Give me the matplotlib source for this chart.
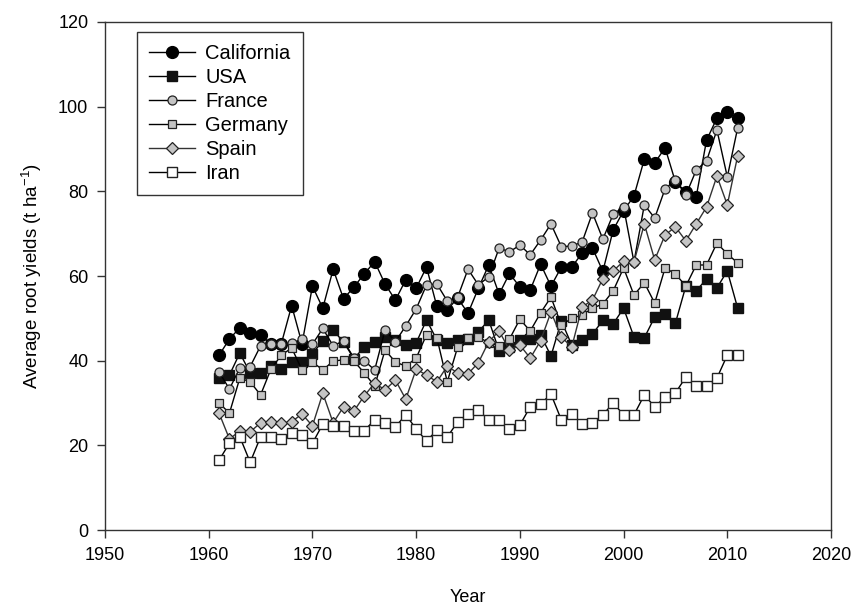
import numpy as np
import matplotlib
matplotlib.use("Agg")
import matplotlib.pyplot as plt

plt.rcParams['font.family'] = ['Liberation Sans', 'DejaVu Sans']
plt.rcParams['mathtext.fontset'] = 'custom'
plt.rcParams['mathtext.rm'] = 'Liberation Sans'

years = np.arange(1961, 2012)

california = [41.3, 45.1, 47.8, 46.6, 46.0, 44.0, 44.0, 53.0, 44.0, 57.6,
              52.4, 61.6, 54.6, 57.4, 60.5, 63.4, 58.1, 54.3, 59.1, 57.1,
              62.1, 52.8, 52.0, 54.8, 51.2, 57.1, 62.6, 55.7, 60.6, 57.4,
              56.7, 62.8, 57.6, 62.1, 62.1, 65.4, 66.6, 61.1, 70.9, 75.4,
              78.9, 87.6, 86.7, 90.3, 82.2, 79.9, 78.7, 92.1, 97.3, 98.7,
              97.3]
usa = [36.0, 36.6, 41.8, 37.1, 37.1, 38.7, 38.0, 39.7, 39.7, 41.6,
       44.7, 47.2, 44.4, 40.5, 43.2, 44.3, 45.6, 44.9, 43.7, 44.2,
       49.6, 44.9, 44.2, 44.9, 45.1, 46.8, 49.6, 42.3, 43.2, 44.9,
       45.1, 46.1, 41.1, 49.4, 43.7, 44.9, 46.3, 49.5, 48.7, 52.4,
       45.6, 45.4, 50.3, 51.0, 48.9, 57.6, 56.5, 59.3, 57.2, 61.2,
       52.4]
france = [37.3, 33.3, 38.3, 38.6, 43.5, 44.0, 44.0, 44.1, 45.1, 43.9,
          47.6, 43.5, 44.7, 40.6, 40.0, 37.8, 47.2, 44.5, 48.2, 52.2,
          57.9, 58.1, 54.1, 55.0, 61.6, 57.9, 59.8, 66.6, 65.7, 67.3,
          65.0, 68.5, 72.3, 66.9, 67.1, 68.0, 74.9, 68.7, 74.6, 76.3,
          63.3, 76.8, 73.7, 80.6, 82.7, 79.1, 85.0, 87.2, 94.5, 83.4,
          95.0]
germany = [30.0, 27.6, 35.9, 35.0, 31.9, 38.0, 41.3, 43.0, 37.8, 39.7,
           37.8, 39.9, 40.2, 39.9, 37.1, 34.0, 42.5, 39.7, 38.7, 40.6,
           46.1, 45.4, 35.0, 43.2, 45.4, 45.6, 44.2, 43.5, 45.1, 49.8,
           47.0, 51.3, 55.0, 48.4, 50.0, 50.8, 52.4, 53.4, 56.5, 61.9,
           55.5, 58.4, 53.6, 61.9, 60.5, 57.6, 62.6, 62.6, 67.8, 65.2,
           63.1]
spain = [27.6, 21.5, 23.4, 23.2, 25.3, 25.6, 25.2, 25.6, 27.4, 24.6,
         32.3, 25.3, 29.1, 28.1, 31.7, 34.7, 33.1, 35.4, 30.9, 38.0,
         36.6, 35.0, 38.7, 37.1, 36.9, 39.5, 44.5, 47.0, 42.5, 43.7,
         40.6, 44.7, 51.5, 45.6, 43.2, 52.7, 54.3, 59.4, 61.2, 63.5,
         63.3, 72.3, 63.8, 69.7, 71.6, 68.3, 72.3, 76.3, 83.6, 76.8,
         88.4]
iran = [16.5, 20.5, 22.0, 16.0, 22.0, 22.0, 21.5, 23.0, 22.5, 20.5,
        25.0, 24.5, 24.5, 23.5, 23.5, 26.0, 25.3, 24.4, 27.2, 23.9,
        21.0, 23.6, 22.0, 25.5, 27.4, 28.3, 26.0, 26.0, 23.9, 24.8,
        29.1, 29.8, 32.1, 26.0, 27.4, 25.0, 25.3, 27.2, 30.0, 27.2,
        27.2, 31.9, 29.1, 31.4, 32.4, 36.1, 34.0, 34.0, 35.9, 41.3,
        41.3]

fig = plt.figure(figsize=(8.57, 6.06), dpi=100)
ax = fig.add_axes([0.1225, 0.1254, 0.8472, 0.8383])

gray = '#c4c4c4'
edge = '#222222'
ax.plot(years, california, '-o', color='black', lw=1, ms=8.5,
        mfc='black', mec='black', label='California', zorder=3)
ax.plot(years, usa, '-s', color='black', lw=1, ms=7.5,
        mfc='#111111', mec='#111111', label='USA', zorder=3)
ax.plot(years, france, '-o', color='black', lw=1, ms=6.5,
        mfc=gray, mec=edge, mew=0.9, label='France', zorder=3)
ax.plot(years, germany, '-s', color='black', lw=1, ms=5.5,
        mfc=gray, mec=edge, mew=0.9, label='Germany', zorder=3)
ax.plot(years, spain, '-D', color='#333333', lw=1, ms=6,
        mfc=gray, mec=edge, mew=0.9, label='Spain', zorder=3)
ax.plot(years, iran, '-s', color='black', lw=1, ms=7,
        mfc='white', mec=edge, mew=1.0, label='Iran', zorder=3)

ax.set_xlim(1950, 2020)
ax.set_ylim(0, 120)
ax.set_xticks(np.arange(1950, 2021, 10))
ax.set_yticks(np.arange(0, 121, 20))
ax.tick_params(direction='out', length=6, width=1, color='#333333',
               labelsize=13, top=False, right=False, pad=6)
for s in ax.spines.values():
    s.set_color('#333333')
    s.set_linewidth(1)

ax.set_xlabel('Year', fontsize=13, labelpad=18)
ax.set_ylabel(r'Average root yields (t ha$^{-1}$)', fontsize=13.5, labelpad=10)

# legend box sits near the top-left corner, square frame
leg = ax.legend(loc='upper left', bbox_to_anchor=(0.044, 0.98),
                borderaxespad=0, fontsize=14.5, frameon=True, fancybox=False,
                edgecolor='black', handlelength=2.3, labelspacing=0.25,
                borderpad=0.6, handletextpad=0.5)
leg.get_frame().set_linewidth(1)

fig.savefig('out.png', dpi=100)
